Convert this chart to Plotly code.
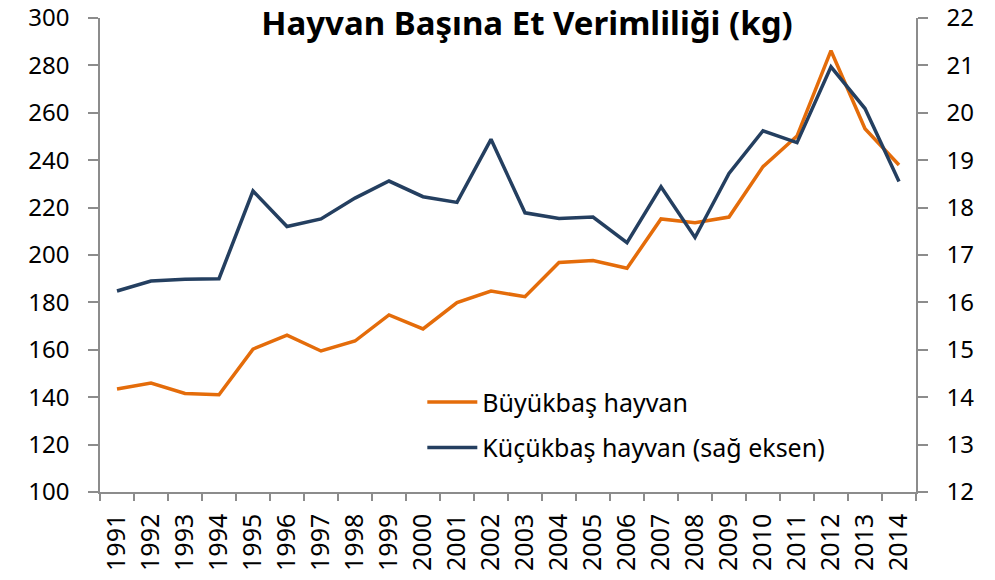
import plotly.graph_objects as go

years = [str(y) for y in range(1991, 2015)]
buyukbas = [143.5, 146.0, 141.6, 141.0, 160.3, 166.2, 159.5, 163.7, 174.7, 168.8,
            179.9, 184.8, 182.4, 196.8, 197.7, 194.4, 215.2, 213.6, 216.0, 237.3,
            250.2, 286.2, 253.3, 238.0]
kucukbas = [16.24, 16.45, 16.49, 16.50, 18.35, 17.60, 17.76, 18.20, 18.56, 18.23,
            18.11, 19.44, 17.89, 17.77, 17.80, 17.26, 18.44, 17.37, 18.72, 19.62,
            19.37, 20.97, 20.09, 18.55]
left_ticks = list(range(100, 301, 20))
right_ticks = list(range(12, 23, 1))

ORANGE = "#E46C0A"
NAVY = "#243F60"
AXIS = "#8C8C8C"
FONT = "Noto Sans"

fig = go.Figure()
fig.add_trace(go.Scatter(x=years, y=buyukbas, mode="lines", name="Büyükbaş hayvan",
                         line=dict(color=ORANGE, width=3.5), legendgroup="a"))
fig.add_trace(go.Scatter(x=years, y=kucukbas, mode="lines", name="Küçükbaş hayvan (sağ eksen)",
                         line=dict(color=NAVY, width=3.5), yaxis="y2", legendgroup="b"))

W, H = 995, 580
fig.update_layout(
    width=W, height=H,
    margin=dict(l=100, r=79, t=18, b=88, autoexpand=False),
    paper_bgcolor="white", plot_bgcolor="white",
    font=dict(family=FONT, size=24, color="black"),
    title=dict(text="<b>Hayvan Başına Et Verimliliği (kg)</b>", x=527 / W, xanchor="center",
               y=1 - 23 / H, yanchor="middle", font=dict(family=FONT, size=33, color="black")),
    showlegend=True,
    legend=dict(x=0.395, y=0.238, xanchor="left", yanchor="top", bgcolor="rgba(0,0,0,0)",
                font=dict(size=25), tracegroupgap=10, itemwidth=50, traceorder="grouped"),
    xaxis=dict(type="category", range=[-0.5, 23.5], tickson="boundaries", ticks="outside",
               ticklen=7, tickcolor=AXIS, tickwidth=1.5, showline=True, linecolor=AXIS,
               linewidth=1.5, showgrid=False, tickangle=-90, tickfont=dict(size=25),
               automargin=False, ticklabelstandoff=10, ticklabeloverflow="allow"),
    yaxis=dict(range=[100, 300], tickvals=left_ticks, ticks="outside", ticklen=10,
               tickcolor=AXIS, tickwidth=1.5, showline=True, linecolor=AXIS, linewidth=1.5,
               showgrid=False, zeroline=False, tickfont=dict(size=24), automargin=False,
               ticklabelstandoff=14, ticklabeloverflow="allow"),
    yaxis2=dict(range=[12, 22], tickvals=right_ticks, overlaying="y", side="right",
                ticks="outside", ticklen=10, tickcolor=AXIS, tickwidth=1.5, showline=True,
                linecolor=AXIS, linewidth=1.5, showgrid=False, zeroline=False,
                tickfont=dict(size=24), automargin=False, ticklabelstandoff=14,
                ticklabeloverflow="allow"),
)

fig.write_html("out.html", config={"displayModeBar": False},
               post_script="document.body.style.margin='0';document.body.style.overflow='hidden';")
